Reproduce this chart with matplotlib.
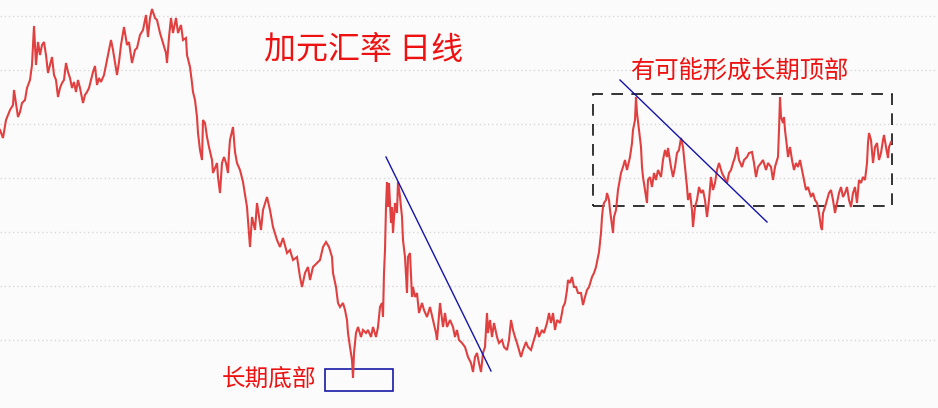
import matplotlib
matplotlib.use("Agg")
import matplotlib.pyplot as plt
from matplotlib.patches import Rectangle

plt.rcParams['font.family'] = ['Noto Sans CJK SC', 'DejaVu Sans']

# trading-day index (time axis)
days = [0, 3, 6, 10, 13, 14, 18, 20, 22, 25, 27, 30, 32, 34, 36, 38, 40, 42, 44, 46, 48, 50, 52, 54, 56, 58, 60, 62, 64, 66, 68, 70, 72, 74, 76, 78, 80, 83, 85, 87, 89, 91, 93, 95, 97, 99, 101, 104, 107, 111, 113, 117, 119, 121, 124, 127, 129, 132, 135, 137, 140, 143, 146, 148, 150, 152,
        155, 157, 160, 163, 166, 167, 169, 171, 173, 176, 178, 181, 183, 186, 187, 190, 192, 193, 195, 197, 198, 200, 202, 203, 205, 207, 209, 212, 213, 217, 218, 220, 222, 224, 226, 228, 229, 230, 233, 235, 237, 240, 243, 247, 250, 252, 255, 257, 261, 263, 267, 270, 273, 277, 280, 283, 287, 290, 293, 297, 300, 302, 305, 308,
        310, 313, 317, 320, 323, 326, 329, 332, 333, 336, 338, 340, 343, 345, 347, 348, 350, 352, 353, 354, 356, 358, 361, 363, 366, 368, 371, 373, 376, 378, 380, 382, 383, 384, 385, 386, 387, 388, 389, 391, 392, 393, 395, 397, 398, 400, 402, 403, 405, 407, 408, 410, 412, 413, 415, 417, 419, 422, 424, 427, 430, 433, 436, 437, 440, 443, 445, 447, 450, 453, 455, 457, 459,
        462, 465, 468, 471, 473, 475, 477, 479, 481, 483, 485, 487, 488, 490, 492, 494, 497, 499, 502, 504, 507, 509, 511, 513, 515, 517, 519, 521, 523, 526, 528, 531, 533, 536, 537, 539, 542, 544, 547, 549, 551, 553, 555, 557, 560, 562, 563, 565, 567, 568, 570, 572, 574, 576, 578, 581, 583, 585, 587, 589, 592, 594, 596, 598, 599, 601, 602, 603, 604, 606, 607, 609,
        610, 613, 614, 616, 618, 621, 623, 625, 627, 630, 632, 633, 635, 636, 637, 639, 641, 642, 643, 645, 647, 648, 650, 652, 654, 656, 658, 661, 663, 665, 667, 668, 671, 673, 675, 677, 679, 681, 683, 685, 687, 688, 690, 692, 693, 695, 697, 699, 701, 703, 705, 707, 709, 711, 713, 715, 717, 719, 722, 724, 727, 729, 731, 733, 735, 737, 739, 742, 744, 747, 749, 752, 754, 756, 758,
        761, 763, 766, 768, 771, 773, 775, 777, 778, 779, 780, 781, 783, 784, 785, 787, 788, 790, 792, 794, 796, 798, 800, 802, 804, 806, 808, 811, 813, 815, 817, 819, 821, 822, 823, 825, 827, 829, 831, 833, 835, 837, 839, 841, 843, 845, 847, 849, 851, 853, 855, 857, 859, 861, 863, 865, 867, 868, 869, 871, 873, 875, 877, 879, 881, 883, 884, 886, 888, 889, 891]

# CAD exchange rate (daily close)
rate = [5.85, 5.81, 5.90, 5.95, 5.975, 6.05, 5.915, 5.94, 5.985, 6.0, 6.06, 6.1, 6.175, 6.37, 6.175, 6.29, 6.225, 6.275, 6.29, 6.225, 6.135, 6.175, 6.215, 6.125, 6.1, 6.015, 6.06, 6.085, 6.1, 6.185, 6.14, 6.11, 6.06, 6.09, 6.04, 6.1, 6.06, 5.985, 6.025, 6.04, 6.06, 6.1, 6.14, 6.17, 6.075, 6.11, 6.09, 6.125, 6.2, 6.3, 6.25, 6.125, 6.19, 6.275, 6.365, 6.275, 6.29, 6.185, 6.25, 6.26, 6.325, 6.35, 6.425, 6.315, 6.41, 6.455,
        6.41, 6.4, 6.335, 6.285, 6.235, 6.185, 6.315, 6.41, 6.335, 6.41, 6.335, 6.375, 6.3, 6.31, 6.225, 6.165, 6.085, 6.04, 6.0, 5.915, 5.835, 5.75, 5.70, 5.90, 5.885, 5.815, 5.765, 5.70, 5.635, 5.685, 5.615, 5.535, 5.685, 5.715, 5.685, 5.635, 5.735, 5.80, 5.865, 5.74, 5.685, 5.65, 5.59, 5.465, 5.265, 5.415, 5.35, 5.485, 5.35, 5.45, 5.515, 5.45, 5.365, 5.30, 5.265, 5.31, 5.235, 5.25, 5.20, 5.215, 5.115, 5.065, 5.135, 5.165,
        5.10, 5.165, 5.185, 5.20, 5.265, 5.29, 5.265, 5.215, 5.135, 5.065, 4.985, 4.965, 4.985, 4.95, 4.90, 4.835, 4.765, 4.70, 4.61, 4.735, 4.835, 4.865, 4.815, 4.85, 4.835, 4.85, 4.815, 4.865, 4.815, 4.865, 4.965, 4.985, 4.915, 5.135, 5.25, 5.465, 5.59, 5.465, 5.585, 5.385, 5.465, 5.335, 5.485, 5.435, 5.59, 5.515, 5.415, 5.30, 5.215, 5.035, 5.215, 5.235, 5.015, 5.065, 5.015, 5.035, 4.935, 4.985, 4.95, 4.915, 4.965, 4.90, 4.835, 4.80, 4.985, 4.865, 4.935, 4.865, 4.90, 4.865, 4.815, 4.85, 4.80,
        4.785, 4.765, 4.715, 4.685, 4.64, 4.715, 4.735, 4.685, 4.64, 4.735, 4.765, 4.935, 4.835, 4.90, 4.815, 4.885, 4.815, 4.785, 4.80, 4.765, 4.75, 4.80, 4.90, 4.85, 4.815, 4.785, 4.75, 4.715, 4.75, 4.79, 4.765, 4.75, 4.785, 4.835, 4.865, 4.815, 4.85, 4.835, 4.885, 4.935, 4.885, 4.935, 4.85, 4.90, 4.885, 4.935, 4.965, 4.985, 5.05, 5.10, 5.085, 5.115, 5.065, 5.065, 5.035, 5.035, 4.975, 5.015, 5.05, 5.065, 5.115, 5.135, 5.165, 5.215, 5.24, 5.335, 5.415, 5.465, 5.485, 5.50, 5.535, 5.50,
        5.45, 5.335, 5.415, 5.45, 5.55, 5.635, 5.665, 5.70, 5.65, 5.715, 5.785, 5.85, 5.90, 6.015, 5.935, 5.85, 5.765, 5.665, 5.615, 5.55, 5.485, 5.60, 5.615, 5.565, 5.635, 5.60, 5.65, 5.615, 5.70, 5.75, 5.715, 5.76, 5.665, 5.615, 5.665, 5.735, 5.75, 5.81, 5.765, 5.665, 5.565, 5.50, 5.535, 5.45, 5.365, 5.465, 5.50, 5.565, 5.535, 5.55, 5.50, 5.415, 5.50, 5.615, 5.55, 5.585, 5.65, 5.685, 5.635, 5.615, 5.585, 5.635, 5.65, 5.685, 5.715, 5.765, 5.70, 5.665, 5.70, 5.715, 5.735, 5.74, 5.685, 5.615, 5.665,
        5.685, 5.70, 5.65, 5.685, 5.665, 5.60, 5.665, 5.70, 5.715, 5.85, 6.015, 5.915, 5.885, 5.915, 5.85, 5.765, 5.715, 5.765, 5.70, 5.65, 5.685, 5.665, 5.70, 5.65, 5.60, 5.55, 5.565, 5.515, 5.535, 5.50, 5.485, 5.435, 5.365, 5.35, 5.435, 5.465, 5.50, 5.535, 5.55, 5.50, 5.435, 5.485, 5.535, 5.565, 5.515, 5.535, 5.565, 5.50, 5.465, 5.535, 5.565, 5.485, 5.60, 5.585, 5.615, 5.60, 5.685, 5.785, 5.835, 5.80, 5.685, 5.765, 5.785, 5.70, 5.735, 5.80, 5.825, 5.765, 5.71, 5.765, 5.79]

grid_levels = [6.42, 6.15, 5.88, 5.61, 5.34, 5.07, 4.80]

title_text = "加元汇率 日线"
top_text = "有可能形成长期顶部"
bottom_text = "长期底部"

fig = plt.figure(figsize=(9.38, 4.08), dpi=100)
fig.patch.set_facecolor('#fbfbfb')
ax = fig.add_axes([0, 0, 1, 1])
ax.set_facecolor('#fbfbfb')
ax.set_xlim(0, 938)
ax.set_ylim(4.46, 6.5)
for s in ax.spines.values():
    s.set_visible(False)
ax.set_xticks([])
ax.set_yticks(grid_levels)
ax.tick_params(left=False, labelleft=False)
ax.yaxis.grid(True, color='#d9d9d9', linestyle=(0, (1, 2)), linewidth=1.0)
ax.set_axisbelow(True)

ax.plot(days, rate, color='#e04040', linewidth=1.5, solid_joinstyle='miter')

# trend lines
ax.plot([386, 491], [5.715, 4.645], color='#1414aa', linewidth=1.0)
ax.plot([620, 767], [6.10, 5.39], color='#1414aa', linewidth=1.0)

# top range box
ax.add_patch(Rectangle((593, 5.47), 299, 0.56, fill=False, edgecolor='#111111',
                       linewidth=1.2, linestyle=(0, (7, 5))))
# bottom box
ax.add_patch(Rectangle((325, 4.545), 68, 0.11, fill=False, edgecolor='#1a1aa6',
                       linewidth=1.2))

ax.text(364, 6.25, title_text, color='#ee1111', fontsize=23, ha='center', va='center')
ax.text(739, 6.14, top_text, color='#ee1111', fontsize=17.5, ha='center', va='center')
ax.text(269, 4.605, bottom_text, color='#ee1111', fontsize=17, ha='center', va='center')

fig.savefig('out.png', dpi=100, facecolor=fig.get_facecolor())
